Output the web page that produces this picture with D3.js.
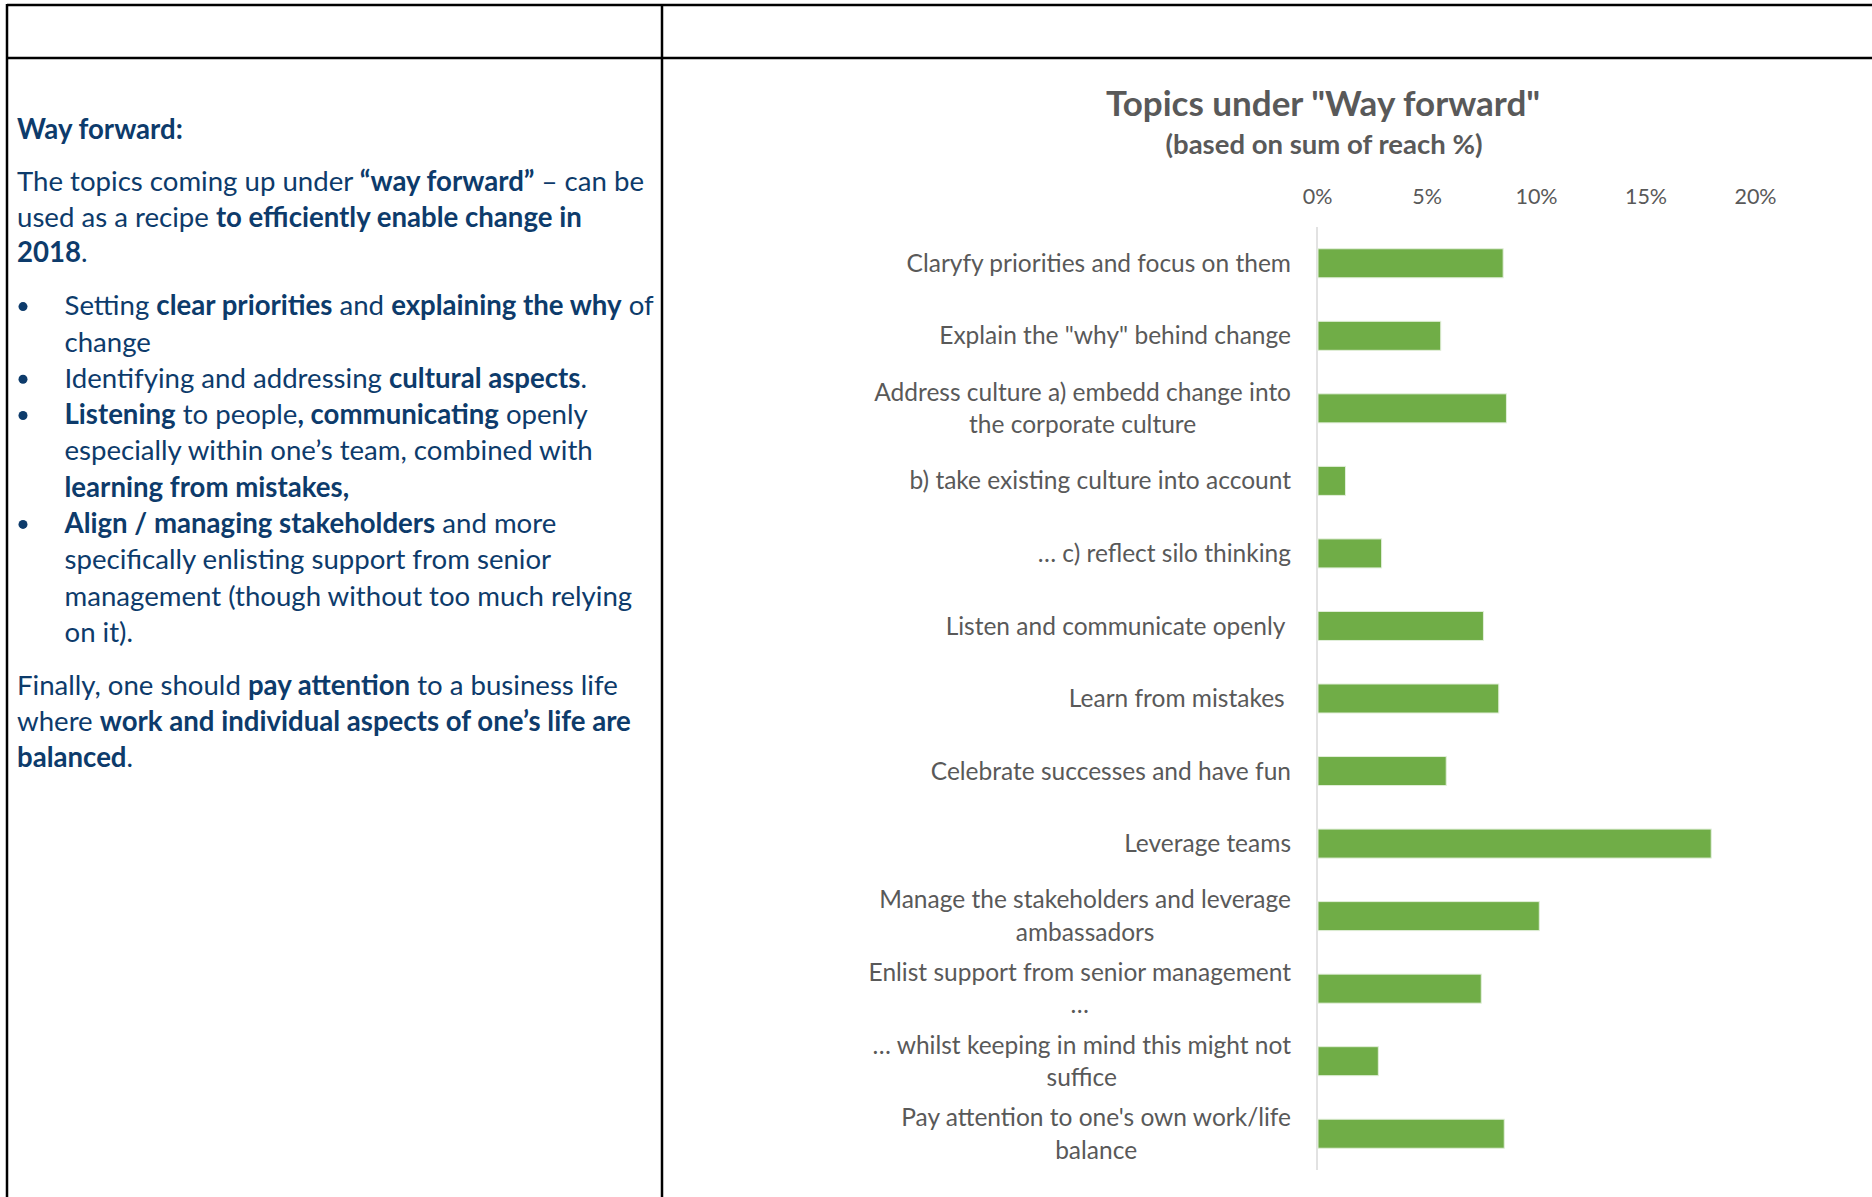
<!DOCTYPE html>
<html>
<head>
<meta charset="utf-8">
<script src="https://cdn.jsdelivr.net/npm/d3@7"></script>
<style>
  body { margin: 0; background: #fff; }
  svg { display: block; font-family: Lato, "Open Sans", sans-serif; }
  .cat text { white-space: pre; }
</style>
</head>
<body>
<div id="chart"></div>
<script>
// chart data
const categories = [
    "Claryfy priorities and focus on them",
    "Explain the \"why\" behind change",
    "Address culture a) embedd change into\nthe corporate culture",
    "b) take existing culture into account",
    "… c) reflect silo thinking",
    "Listen and communicate openly ",
    "Learn from mistakes ",
    "Celebrate successes and have fun",
    "Leverage teams",
    "Manage the stakeholders and leverage\nambassadors",
    "Enlist support from senior management\n…",
    "… whilst keeping in mind this might not\nsuffice",
    "Pay attention to one's own work/life\nbalance"
];
const reach = [8.5, 5.65, 8.65, 1.3, 2.95, 7.6, 8.3, 5.9, 18.0, 10.15, 7.5, 2.8, 8.55];
const tickValues = [0, 0.05, 0.10, 0.15, 0.20];
const chartTitle = "Topics under \"Way forward\"";
const chartSubtitle = "(based on sum of reach %)";

// left column text, one entry per line: [text, bold]
const heading = "Way forward:";
const paraLines = [
    [["The topics coming up under ", false], ["\u201cway forward\u201d", true], [" \u2013 can be", false]],
    [["used as a recipe ", false], ["to efficiently enable change in", true]],
    [["2018", true], [".", false]]
];
const bulletLines = [
    {bullet: true, segs: [["Setting ", false], ["clear priorities", true], [" and ", false], ["explaining the why", true], [" of", false]]},
    {bullet: false, segs: [["change", false]]},
    {bullet: true, segs: [["Identifying and addressing ", false], ["cultural aspects", true], [".", false]]},
    {bullet: true, segs: [["Listening", true], [" to people", false], [", communicating", true], [" openly", false]]},
    {bullet: false, segs: [["especially within one\u2019s team, combined with", false]]},
    {bullet: false, segs: [["learning from mistakes,", true]]},
    {bullet: true, segs: [["Align / managing stakeholders", true], [" and more", false]]},
    {bullet: false, segs: [["specifically enlisting support from senior", false]]},
    {bullet: false, segs: [["management (though without too much relying", false]]},
    {bullet: false, segs: [["on it).", false]]}
];
const finalLines = [
    [["Finally, one should ", false], ["pay attention", true], [" to a business life", false]],
    [["where ", false], ["work and individual aspects of one\u2019s life are", true]],
    [["balanced", true], [".", false]]
];

const W = 1872, H = 1197;
const textBlue = "#0d3b6b";
const grey = "#595959";

const svg = d3.select("#chart").append("svg")
    .attr("width", W)
    .attr("height", H);

// table lines
const table = svg.append("g").attr("stroke", "#000").attr("stroke-width", 2.5);
table.append("line").attr("x1", 7).attr("x2", W).attr("y1", 5).attr("y2", 5);
table.append("line").attr("x1", 7).attr("x2", W).attr("y1", 58).attr("y2", 58);
table.append("line").attr("x1", 7).attr("x2", 7).attr("y1", 4).attr("y2", H);
table.append("line").attr("x1", 662).attr("x2", 662).attr("y1", 4).attr("y2", H);

// left column text
const left = svg.append("g").attr("fill", textBlue).style("font-size", "27.6px");

function writeLine(x, y, segs) {
    const t = left.append("text").attr("x", x).attr("y", y).attr("dy", "0.35em");
    segs.forEach(s => {
        t.append("tspan").attr("font-weight", s[1] ? "bold" : "normal").text(s[0]);
    });
}

writeLine(17, 129, [[heading, true]]);
paraLines.forEach((l, i) => writeLine(17, 181.5 + i * 35.5, l));
bulletLines.forEach((l, i) => {
    const y = 305.6 + i * 36.3;
    if (l.bullet) left.append("circle").attr("cx", 23).attr("cy", y + 1).attr("r", 4.5);
    writeLine(64.5, y, l.segs);
});
finalLines.forEach((l, i) => writeLine(17, 685 + i * 36, l));

// chart
const x = d3.scaleLinear().domain([0, 0.20]).range([1317, 1755]);
const y = d3.scaleBand().domain(categories).range([227, 1170]).paddingInner(0.6).paddingOuter(0.3);

svg.append("text")
    .attr("x", 1323).attr("y", 104).attr("dy", "0.35em")
    .attr("text-anchor", "middle")
    .attr("fill", grey)
    .attr("font-weight", "bold")
    .style("font-size", "35px")
    .text(chartTitle);

svg.append("text")
    .attr("x", 1324).attr("y", 144.5).attr("dy", "0.35em")
    .attr("text-anchor", "middle")
    .attr("fill", grey)
    .attr("font-weight", "bold")
    .style("font-size", "27.5px")
    .text(chartSubtitle);

// top axis
const xAxis = d3.axisTop(x).tickValues(tickValues).tickFormat(d3.format(".0%")).tickSize(0).tickPadding(0);
const gx = svg.append("g")
    .attr("transform", "translate(0,196)")
    .call(xAxis);
gx.select(".domain").remove();
gx.selectAll("text")
    .attr("dy", "0.35em")
    .attr("fill", grey)
    .style("font-size", "21.5px")
    .style("font-family", "Lato, sans-serif");

// vertical axis line
svg.append("line")
    .attr("x1", x(0)).attr("x2", x(0))
    .attr("y1", 227).attr("y2", 1170)
    .attr("stroke", "#d9d9d9")
    .attr("stroke-width", 1.5);

// bars
svg.selectAll(".bar")
    .data(categories.map((c, i) => ({cat: c, v: reach[i] / 100})))
    .enter()
    .append("rect")
    .attr("class", "bar")
    .attr("x", x(0) + 1)
    .attr("y", d => y(d.cat))
    .attr("width", d => x(d.v) - x(0) - 1)
    .attr("height", y.bandwidth())
    .attr("fill", "#70ad47")
    .attr("stroke", "#e2efda")
    .attr("stroke-width", 1);

// category labels: right aligned block, lines centred within the block
const labelRight = 1291;
const lineGap = 32.5;
categories.forEach(c => {
    const lines = c.split("\n");
    const cy = y(c) + y.bandwidth() / 2;
    const g = svg.append("g").attr("class", "cat").attr("fill", grey).style("font-size", "24.5px");
    const texts = lines.map((ln, i) => g.append("text")
        .attr("y", cy + (i - (lines.length - 1) / 2) * lineGap)
        .attr("dy", "0.35em")
        .text(ln));
    const wMax = d3.max(texts, t => t.node().getComputedTextLength());
    texts.forEach(t => t.attr("x", labelRight - wMax / 2).attr("text-anchor", "middle"));
});
</script>
</body>
</html>
